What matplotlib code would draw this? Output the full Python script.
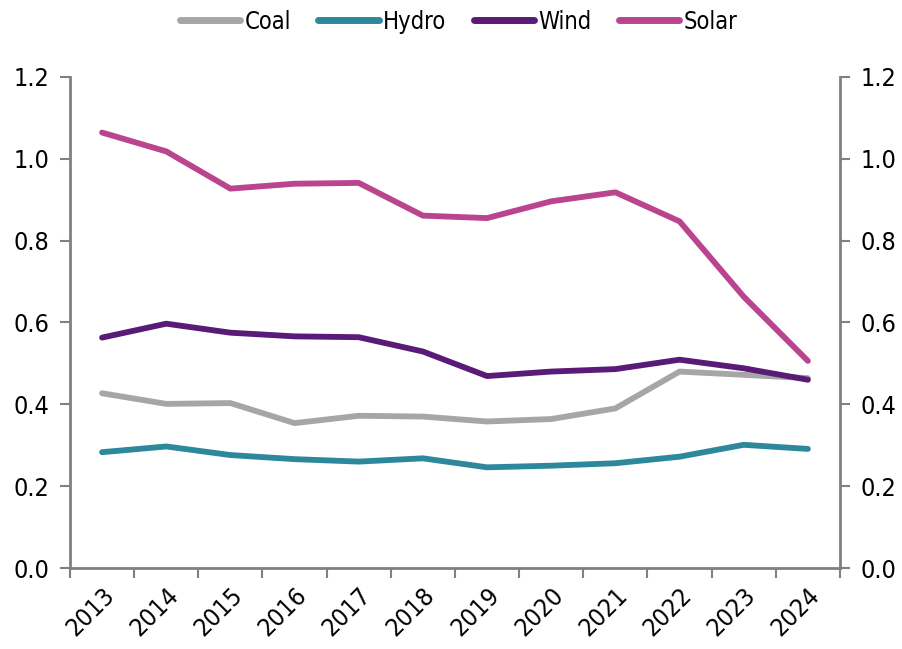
import numpy as np
import matplotlib
matplotlib.use("Agg")
import matplotlib.pyplot as plt

years = ["2013", "2014", "2015", "2016", "2017", "2018",
         "2019", "2020", "2021", "2022", "2023", "2024"]
coal = [0.427, 0.401, 0.403, 0.354, 0.372, 0.370, 0.358, 0.364, 0.390, 0.480, 0.472, 0.464]
hydro = [0.283, 0.297, 0.276, 0.266, 0.260, 0.268, 0.246, 0.250, 0.256, 0.272, 0.301, 0.291]
wind = [0.563, 0.597, 0.575, 0.566, 0.564, 0.529, 0.469, 0.480, 0.486, 0.509, 0.488, 0.460]
solar = [1.064, 1.018, 0.927, 0.939, 0.941, 0.861, 0.855, 0.896, 0.918, 0.847, 0.663, 0.506]
y_ticks = [0.0, 0.2, 0.4, 0.6, 0.8, 1.0, 1.2]

series = [("Coal", coal, "#A6A6A6"),
          ("Hydro", hydro, "#2E889B"),
          ("Wind", wind, "#591B77"),
          ("Solar", solar, "#BB448F")]

plt.rcParams["font.family"] = ["DejaVu Sans"]
plt.rcParams["font.stretch"] = "condensed"

axis_gray = "#808080"

fig = plt.figure(figsize=(9.03, 6.49), dpi=100)
ax = fig.add_axes([0.0775, 0.1248, 0.8527, 0.7567])

x = np.arange(len(years))
for name, vals, color in series:
    ax.plot(x, vals, color=color, lw=4.2, solid_capstyle="round",
            solid_joinstyle="round", label=name)

ax.set_xlim(-0.5, len(years) - 0.5)
ax.set_ylim(0, 1.2)

# x axis: category labels at centres, tick marks at the bin edges
ax.set_xticks(x)
ax.set_xticklabels(years, rotation=45, ha="right", va="top",
                   rotation_mode="anchor", fontsize=18)
ax.set_xticks(np.arange(-0.5, len(years)), minor=True)
ax.tick_params(axis="x", which="major", length=0, pad=11)
ax.tick_params(axis="x", which="minor", length=7, width=1.5, color=axis_gray)

ax.set_yticks(y_ticks)
ax.set_yticklabels([f"{v:.1f}" for v in y_ticks], fontsize=18)
ax.tick_params(axis="y", length=7, width=1.5, color=axis_gray, pad=8,
               labelright=True, right=True)

for side in ("left", "right", "bottom"):
    ax.spines[side].set_color(axis_gray)
    ax.spines[side].set_linewidth(2)
ax.spines["top"].set_visible(False)

leg = fig.legend(loc="upper center", bbox_to_anchor=(0.508, 1.018), ncol=4,
                 frameon=False, fontsize=17, handlelength=2.55,
                 handletextpad=0.2, columnspacing=1.15)
for line in leg.get_lines():
    line.set_linewidth(5)

fig.savefig("out.png", dpi=100)
